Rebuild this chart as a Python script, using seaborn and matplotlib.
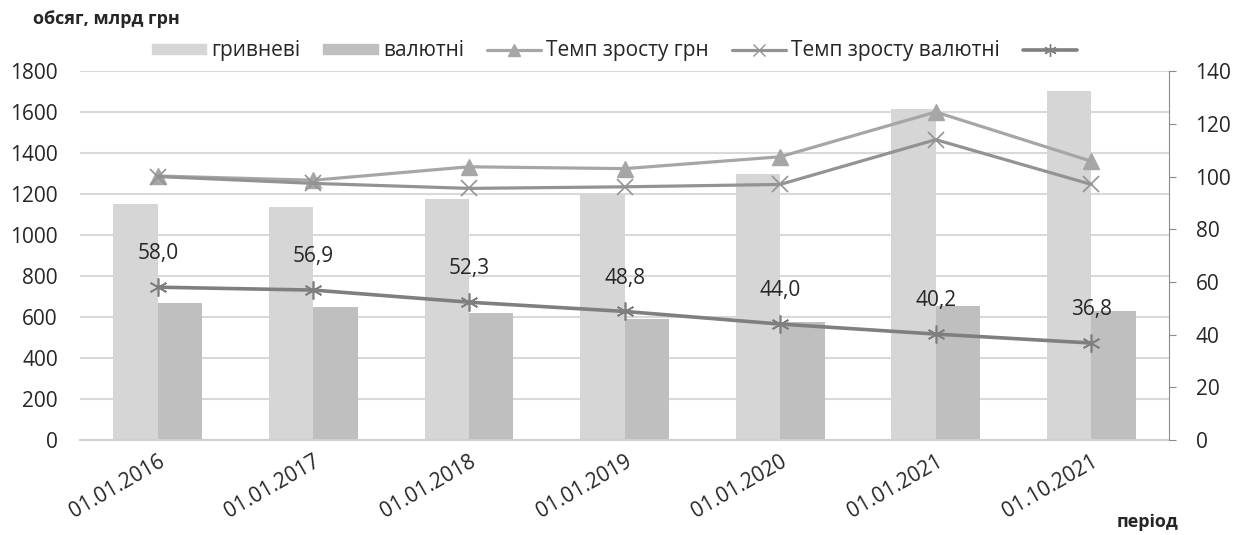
import matplotlib.pyplot as plt
import pandas as pd
import seaborn as sns
from matplotlib.lines import Line2D

# data
periods = ["01.01.2016", "01.01.2017", "01.01.2018", "01.01.2019",
           "01.01.2020", "01.01.2021", "01.10.2021"]
uah_volume = [1153, 1135, 1175, 1205, 1297, 1617, 1705]
fx_volume = [670, 648, 618, 590, 574, 652, 629]
growth_uah = [100.2, 98.6, 103.7, 103.0, 107.5, 124.5, 105.8]
growth_fx = [100.0, 97.4, 95.5, 96.1, 97.0, 114.0, 97.0]
share_line = [58.0, 56.9, 52.3, 48.8, 44.0, 40.2, 36.8]
share_labels = ["58,0", "56,9", "52,3", "48,8", "44,0", "40,2", "36,8"]

sns.set_style("white")
plt.rcParams['font.family'] = ['Open Sans', 'DejaVu Sans']
FS = 15

df = pd.DataFrame({
    "period": periods * 2,
    "value": uah_volume + fx_volume,
    "kind": ["гривневі"] * len(periods) + ["валютні"] * len(periods),
})

fig = plt.figure(figsize=(12.39, 5.35), dpi=100)
ax = fig.add_axes([0.0646, 0.1776, 0.879, 0.6894])

sns.barplot(data=df, x="period", y="value", hue="kind", ax=ax,
            palette=["#d6d6d6", "#bfbfbf"], width=0.57, linewidth=0,
            saturation=1, legend=False)
ax2 = ax.twinx()

ax.set_ylim(0, 1800)
ax.set_yticks(range(0, 1801, 200))
ax.set_xlim(-0.5, len(periods) - 0.5)
ax.yaxis.grid(True, color="#d9d9d9", linewidth=1.5)
ax.set_axisbelow(True)
for s in ["left", "top", "right"]:
    ax.spines[s].set_visible(False)
ax.spines["bottom"].set_color("#d0d0d0")
ax.spines["bottom"].set_linewidth(1.5)
ax.set_xticks(range(len(periods)))
ax.set_xticklabels(periods, rotation=30, ha="right", rotation_mode="anchor")
ax.set_xlabel("")
ax.set_ylabel("")
ax.tick_params(axis="y", length=0, labelsize=FS, pad=16)
ax.tick_params(axis="x", length=0, labelsize=FS, pad=8)

x = list(range(len(periods)))
ax2.plot(x, growth_uah, color="#a6a6a6", lw=2.3, marker="^", ms=11,
         label="Темп зросту грн")
ax2.plot(x, growth_fx, color="#939393", lw=2.3, marker="x", ms=11,
         mew=1.2, label="Темп зросту валютні")
ax2.plot(x, share_line, color="#7f7f7f", lw=2.6, marker=(6, 2, 0), ms=13,
         mew=1.2, label="")
for xi, v, t in zip(x, share_line, share_labels):
    ax2.annotate(t, (xi, v), xytext=(0, 24), textcoords="offset points",
                 ha="center", va="center", fontsize=FS)
ax2.set_ylim(0, 140)
ax2.set_yticks(range(0, 141, 20))
for s in ["left", "top", "bottom"]:
    ax2.spines[s].set_visible(False)
ax2.spines["right"].set_color("#8c8c8c")
ax2.tick_params(axis="y", length=5, color="#8c8c8c", labelsize=FS, pad=14)

handles = [
    plt.Rectangle((0, 0), 1, 1, color="#d6d6d6"),
    plt.Rectangle((0, 0), 1, 1, color="#bfbfbf"),
    Line2D([], [], color="#a6a6a6", lw=2.3, marker="^", ms=8),
    Line2D([], [], color="#939393", lw=2.3, marker="x", ms=8, mew=1),
    Line2D([], [], color="#7f7f7f", lw=2.6, marker=(6, 2, 0), ms=9, mew=1),
]
labels = ["гривневі", "валютні", "Темп зросту грн", "Темп зросту валютні", ""]
fig.legend(handles, labels, loc="center", bbox_to_anchor=(0.498, 0.905),
           ncol=5, frameon=False, fontsize=FS, handlelength=2.6,
           handleheight=0.4, handletextpad=0.25, columnspacing=1.1)

fig.text(0.027, 0.965, "обсяг, млрд грн", fontsize=13, fontweight="bold",
         va="center")
fig.text(0.951, 0.025, "період", fontsize=13, fontweight="bold",
         va="center", ha="right")

fig.savefig("out.png", dpi=100)
